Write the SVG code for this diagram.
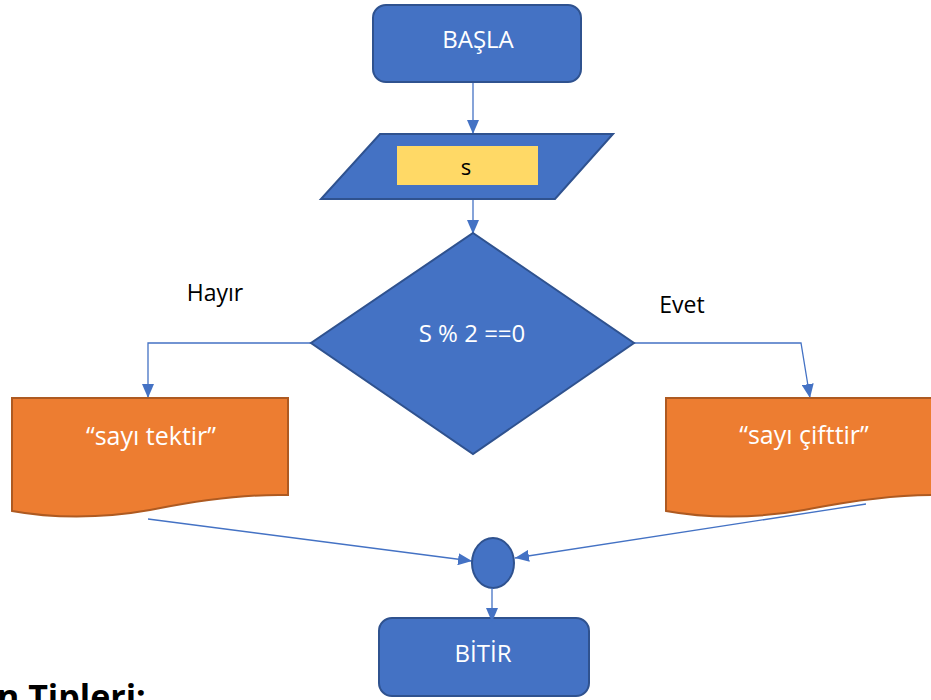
<svg xmlns="http://www.w3.org/2000/svg" width="931" height="700" viewBox="0 0 931 700">
<style>
.blue{fill:#4472C4;stroke:#2F528F;stroke-width:2}
.doc{fill:#ED7D31;stroke:#AE5A21;stroke-width:2}
.wt{fill:#FFFFFF;font-family:"Open Sans","Noto Sans",sans-serif;font-size:24px;text-anchor:middle}
.bt{fill:#000000;font-family:"Open Sans","Noto Sans",sans-serif;font-size:23px;text-anchor:middle}
.ln{fill:none;stroke:#4472C4;stroke-width:1.3}
</style>
<defs>
<marker id="ah" viewBox="0 0 14 12" refX="14" refY="6" markerWidth="14" markerHeight="12" markerUnits="userSpaceOnUse" orient="auto">
<path d="M0,0 L14,6 L0,12 Z" fill="#4472C4"/>
</marker>
</defs>
<rect width="931" height="700" fill="#FFFFFF"/>
<g id="connectors">
<path class="ln" d="M473,82 V134" marker-end="url(#ah)"/>
<path class="ln" d="M473,199 V234" marker-end="url(#ah)"/>
<path class="ln" d="M311,343 H148 V398" marker-end="url(#ah)"/>
<path class="ln" d="M634,343 H801 L810,398" marker-end="url(#ah)"/>
<path class="ln" d="M148,519 L472,561" marker-end="url(#ah)"/>
<path class="ln" d="M866,504 L515,558" marker-end="url(#ah)"/>
</g>
<g id="basla">
<rect class="blue" x="373" y="5" width="208" height="77" rx="13"/>
<text class="wt" x="478" y="48">BAŞLA</text>
</g>
<g id="input">
<path class="blue" d="M380,134 H613 L555,199 H321 Z"/>
<rect x="397" y="146" width="141" height="39" fill="#FFD966"/>
<text class="bt" x="466" y="175" style="font-size:22px">s</text>
</g>
<g id="decision">
<path class="blue" d="M473,233 L634,343 L473,454 L311,343 Z"/>
<text class="wt" x="472" y="342">S % 2 ==0</text>
</g>
<g id="label-hayir"><text class="bt" x="215" y="301">Hayır</text></g>
<g id="label-evet"><text class="bt" x="682" y="313">Evet</text></g>
<g id="doc-tek">
<path class="doc" d="M12,398 H288 V495 C250,494 200,500 150,510 C100,519 50,518 12,511 Z"/>
<text class="wt" x="151" y="445" style="font-size:25px">“sayı tektir”</text>
</g>
<g id="doc-cift">
<path class="doc" d="M666,398 H942 V495 C904,494 854,500 804,510 C754,519 704,518 666,511 Z"/>
<text class="wt" x="804" y="444" style="font-size:25px">“sayı çifttir”</text>
</g>
<g id="join">
<ellipse class="blue" cx="493" cy="563" rx="21" ry="25"/>
</g>
<g id="bitir">
<rect class="blue" x="379" y="618" width="210" height="78" rx="13"/>
<text class="wt" x="483" y="662">BİTİR</text>
</g>
<g id="connector-end">
<path class="ln" d="M492,588 V622" marker-end="url(#ah)"/>
</g>
<text x="-3" y="709" style="font-family:'Open Sans','Noto Sans',sans-serif;font-size:34px;font-weight:bold;fill:#000">n Tipleri:</text>
</svg>
